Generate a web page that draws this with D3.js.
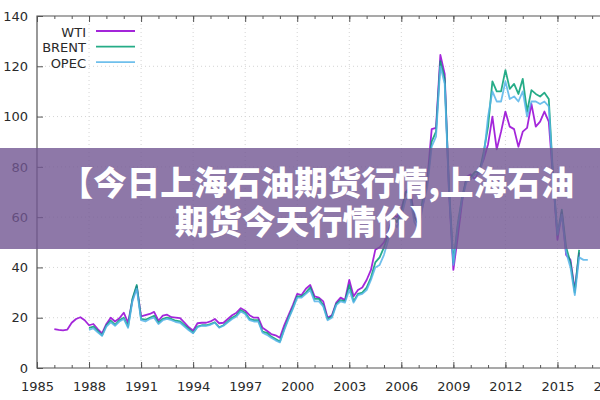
<!DOCTYPE html>
<html>
<head>
<meta charset="utf-8">
<script src="https://cdn.jsdelivr.net/npm/d3@7"></script>
<style>
  html, body { margin: 0; padding: 0; background: #fff; }
  svg { display: block; }
</style>
</head>
<body>
<svg id="chart" width="600" height="400"></svg>
<script>
// ---- data (quarterly, first point 1986 Q1) ----
const startYear = 1986;
const seriesNames = ["WTI", "BRENT", "OPEC"];
const seriesColors = ["#9400d3", "#009e73", "#56b4e9"];

const wti = [
  15.5, 15.2, 15.0, 15.3,   // 1986
  18.0, 19.5, 20.2, 19.0,   // 1987
  17.0, 17.5, 15.5, 13.8,   // 1988
  17.5, 20.0, 18.5, 19.8,   // 1989
  22.0, 18.0, 27.0, 32.5,   // 1990
  20.5, 21.0, 21.5, 22.3,   // 1991
  18.8, 20.8, 21.2, 20.2,   // 1992
  20.0, 19.8, 18.0, 16.2,   // 1993
  14.8, 17.8, 18.0, 18.0,   // 1994
  18.5, 19.5, 17.8, 18.0,   // 1995
  19.5, 21.0, 22.0, 23.8,   // 1996
  22.8, 21.0, 20.0, 20.0,   // 1997
  16.0, 14.8, 13.5, 13.0,   // 1998
  12.0, 17.0, 21.0, 25.0,   // 1999
  29.5, 29.0, 31.5, 33.0,   // 2000
  28.5, 28.0, 26.5, 20.0,   // 2001
  21.0, 26.0, 28.0, 27.0,   // 2002
  35.0, 28.5, 31.0, 32.0,   // 2003
  35.0, 39.0, 47.0, 48.0,   // 2004
  50.0, 54.0, 61.0, 60.0,   // 2005
  63.0, 70.0, 72.0, 60.0,   // 2006
  58.0, 65.0, 75.0, 95.0,   // 2007
  95.5, 124.5, 117.0, 70.0, // 2008
  39.0, 52.0, 66.0, 76.0,   // 2009
  77.0, 75.0, 79.0, 83.0,   // 2010
  89.0, 100.0, 87.0, 94.0,  // 2011
  102.0, 96.0, 95.0, 88.0,  // 2012
  94.0, 95.5, 105.0, 96.0,  // 2013
  98.0, 102.0, 98.0, 75.0,  // 2014
  51.0, 62.0, 45.0, 43.0,   // 2015
  31.0, 46.0                // 2016
];

const brent = [
  null, null, null, null,   // 1986
  null, null, null, null,   // 1987
  16.0, 16.5, 14.8, 13.0,   // 1988
  17.0, 18.8, 17.2, 19.0,   // 1989
  20.0, 16.5, 27.5, 33.0,   // 1990
  19.5, 19.2, 20.0, 20.8,   // 1991
  18.0, 19.5, 20.0, 19.5,   // 1992
  18.8, 18.5, 17.0, 15.5,   // 1993
  14.0, 16.5, 17.0, 17.0,   // 1994
  17.5, 18.2, 16.2, 17.0,   // 1995
  18.5, 20.0, 21.0, 23.0,   // 1996
  22.0, 19.5, 19.0, 19.0,   // 1997
  14.5, 14.0, 12.5, 11.5,   // 1998
  10.5, 15.5, 20.0, 24.0,   // 1999
  28.5, 28.5, 30.0, 32.0,   // 2000
  27.5, 27.5, 25.0, 19.5,   // 2001
  20.5, 25.5, 27.0, 26.5,   // 2002
  33.0, 26.5, 29.5, 30.0,   // 2003
  32.0, 36.0, 42.0, 44.0,   // 2004
  48.0, 53.0, 60.0, 58.0,   // 2005
  62.0, 70.0, 70.0, 60.0,   // 2006
  57.0, 68.0, 74.0, 90.0,   // 2007
  94.0, 122.0, 115.0, 72.0, // 2008
  42.0, 57.0, 68.0, 75.0,   // 2009
  76.0, 78.0, 78.0, 86.0,   // 2010
  96.0, 114.0, 110.0, 110.0,// 2011
  118.5, 111.0, 113.0, 109.0,// 2012
  115.0, 102.0, 110.5, 109.0,// 2013
  108.0, 109.5, 107.0, 76.0,// 2014
  53.0, 63.0, 48.0, 42.0,   // 2015
  30.0, 47.0                // 2016
];

const opec = [
  null, null, null, null,   // 1986
  null, null, null, null,   // 1987
  15.2, 15.8, 14.2, 12.8,   // 1988
  16.5, 18.2, 16.8, 18.5,   // 1989
  19.5, 16.0, 26.5, 31.5,   // 1990
  19.0, 18.5, 19.5, 20.0,   // 1991
  17.5, 19.0, 19.5, 19.0,   // 1992
  18.3, 18.0, 16.5, 15.0,   // 1993
  13.8, 16.2, 16.8, 16.8,   // 1994
  17.2, 18.0, 16.0, 16.8,   // 1995
  18.2, 19.5, 20.5, 22.5,   // 1996
  21.5, 19.0, 18.5, 18.5,   // 1997
  14.0, 13.2, 12.0, 11.0,   // 1998
  10.2, 15.0, 19.5, 23.5,   // 1999
  28.0, 28.0, 29.5, 31.0,   // 2000
  26.5, 26.5, 24.5, 19.0,   // 2001
  20.0, 25.0, 26.5, 26.0,   // 2002
  31.0, 26.0, 29.0, 29.5,   // 2003
  31.0, 35.0, 40.0, 41.0,   // 2004
  45.0, 51.0, 58.0, 56.0,   // 2005
  60.0, 67.0, 68.0, 58.0,   // 2006
  55.0, 65.0, 72.0, 88.0,   // 2007
  92.0, 120.0, 113.0, 70.0, // 2008
  41.0, 56.0, 67.0, 74.0,   // 2009
  75.0, 77.0, 77.0, 84.0,   // 2010
  100.0, 110.0, 106.0, 106.0,// 2011
  114.0, 107.0, 108.0, 106.0,// 2012
  110.0, 100.0, 106.0, 106.0,// 2013
  105.0, 106.0, 104.0, 75.0,// 2014
  53.0, 61.0, 46.0, 40.0,   // 2015
  29.0, 44.0, 43.0, 43.0    // 2016
];

const xMajorTicks = [1985, 1988, 1991, 1994, 1997, 2000, 2003, 2006, 2009, 2012, 2015, 2018];
const yTicks = [0, 20, 40, 60, 80, 100, 120, 140];
const titleLines = ["【今日上海石油期货行情,上海石油", "期货今天行情价】"];

// ---- drawing ----
const svg = d3.select("#chart");
const pLeft = 37, pTop = 16, pBottom = 368, pRight = 609.5;
const x = d3.scaleLinear().domain([1985, 2018]).range([pLeft, pRight]);
const y = d3.scaleLinear().domain([0, 140]).range([pBottom, pTop]);
const font = "'DejaVu Sans', sans-serif";
const axisColor = "#555";

// grid
const grid = svg.append("g");
grid.selectAll("line.gx").data(xMajorTicks.filter(t => t > 1985)).enter().append("line")
  .attr("x1", d => x(d)).attr("x2", d => x(d)).attr("y1", pTop).attr("y2", pBottom)
  .attr("stroke", "#d4d4d4").attr("stroke-width", 1).attr("stroke-dasharray", "1,3");
grid.selectAll("line.gy").data(yTicks.filter(t => t > 0 && t < 140)).enter().append("line")
  .attr("x1", pLeft).attr("x2", pRight).attr("y1", d => y(d)).attr("y2", d => y(d))
  .attr("stroke", "#d4d4d4").attr("stroke-width", 1).attr("stroke-dasharray", "1,3");

// axes via d3 axis generators (inward ticks)
const minorYears = d3.range(1985, 2019);
const xAxisBottomMinor = d3.axisBottom(x).tickValues(minorYears).tickSize(-3).tickFormat("");
const xAxisBottom = d3.axisBottom(x).tickValues(xMajorTicks).tickSize(-6).tickPadding(14).tickFormat(d3.format("d"));
const xAxisTopMinor = d3.axisTop(x).tickValues(minorYears).tickSize(-3).tickFormat("");
const xAxisTop = d3.axisTop(x).tickValues(xMajorTicks).tickSize(-6).tickFormat("");
const yAxisLeft = d3.axisLeft(y).tickValues(yTicks).tickSize(-6).tickPadding(9).tickFormat(d3.format("d"));

function styleAxis(g) {
  g.select(".domain").remove();
  g.selectAll(".tick line").attr("stroke", axisColor).attr("stroke-width", 1);
  g.selectAll(".tick text").attr("fill", "#2a2a2a").attr("font-family", font).attr("font-size", 13);
}
svg.append("g").attr("transform", `translate(0,${pBottom})`).call(xAxisBottomMinor).call(styleAxis);
svg.append("g").attr("transform", `translate(0,${pBottom})`).call(xAxisBottom).call(styleAxis);
svg.append("g").attr("transform", `translate(0,${pTop})`).call(xAxisTopMinor).call(styleAxis);
svg.append("g").attr("transform", `translate(0,${pTop})`).call(xAxisTop).call(styleAxis);
svg.append("g").attr("transform", `translate(${pLeft},0)`).call(yAxisLeft).call(styleAxis);

// frame
svg.append("path")
  .attr("d", `M${pRight},${pTop}H${pLeft}V${pBottom}H${pRight}`)
  .attr("fill", "none").attr("stroke", axisColor).attr("stroke-width", 1.2);

// lines
const allSeries = [wti, brent, opec];
const line = d3.line()
  .defined(d => d.v !== null)
  .x(d => x(d.t)).y(d => y(d.v));
allSeries.forEach((vals, k) => {
  const pts = vals.map((v, i) => ({ t: startYear + i / 4, v: v }));
  svg.append("path").datum(pts)
    .attr("d", line)
    .attr("fill", "none")
    .attr("stroke", seriesColors[k])
    .attr("stroke-width", 1.8)
    .attr("stroke-linejoin", "round")
    .attr("opacity", 0.85);
});

// legend
const legend = svg.append("g");
seriesNames.forEach((name, k) => {
  const ly = 31 + k * 15.6;
  legend.append("text").attr("x", 86).attr("y", ly + 5.5)
    .attr("text-anchor", "end").attr("font-family", font).attr("font-size", 13)
    .attr("fill", "#2a2a2a").text(name);
  legend.append("line").attr("x1", 96).attr("x2", 135).attr("y1", ly).attr("y2", ly)
    .attr("stroke", seriesColors[k]).attr("stroke-width", 1.8).attr("opacity", 0.85);
});

// banner overlay
svg.append("rect").attr("x", 0).attr("y", 148).attr("width", 600).attr("height", 101)
  .attr("fill", "rgb(114,86,146)").attr("fill-opacity", 0.8);
const titleX = [317, 309];
const titleY = [195, 234];
titleLines.forEach((t, i) => {
  svg.append("text")
    .attr("x", titleX[i]).attr("y", titleY[i])
    .attr("text-anchor", "middle")
    .attr("font-family", "'Noto Sans CJK SC', sans-serif")
    .attr("font-weight", 900)
    .attr("font-size", 33.5)
    .attr("fill", "#fff")
    .text(t);
});
</script>
</body>
</html>
